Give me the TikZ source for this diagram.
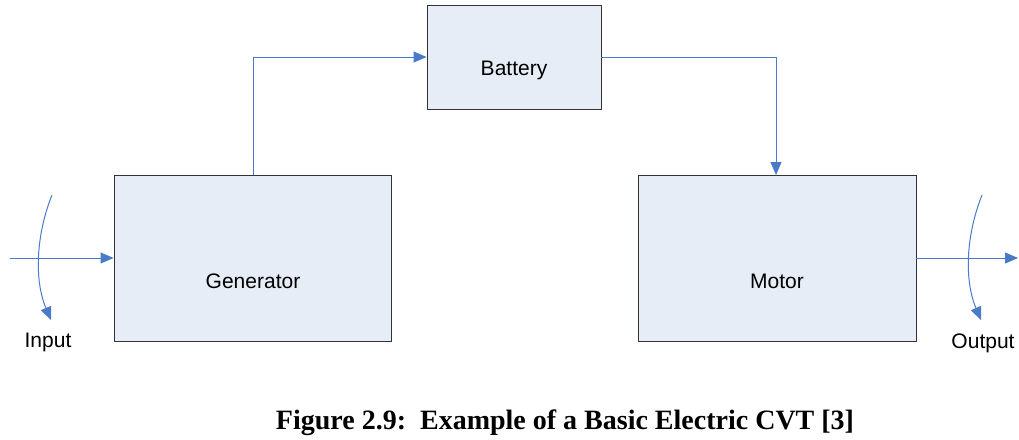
\documentclass[tikz,border=0pt]{standalone}
\usepackage{fontspec}
\setmainfont{Liberation Serif}
\setsansfont{Liberation Sans}
\usetikzlibrary{arrows.meta}
\definecolor{boxfill}{HTML}{E7EDF7}
\definecolor{flowblue}{HTML}{4A7BC8}
\begin{document}
\begin{tikzpicture}[
    x=1pt, y=-1pt,
    block/.style={draw=black!80, fill=boxfill, line width=0.9pt, inner sep=0pt},
    flow/.style={draw=flowblue, line width=1pt, -{Triangle[length=13pt,width=11pt]}},
    lbl/.style={font=\sffamily\fontsize{21}{23}\selectfont}
]
    \useasboundingbox (0,0) rectangle (1019,439);

    % --- BLOCKS ---
    \node[block, minimum width=174pt, minimum height=104pt] (battery) at (514,57) {};
    \node[block, minimum width=277pt, minimum height=166pt] (gen) at (252.5,258) {};
    \node[block, minimum width=278pt, minimum height=166pt] (motor) at (777,258) {};

    % Block labels
    \node[lbl] (batterytxt) at (514,70) {Battery};
    \node[lbl] (gentxt) at (253,281) {Generator};
    \node[lbl] (motortxt) at (777,281) {Motor};

    % --- POWER FLOW ---
    \coordinate (genTop) at (253,175);
    \coordinate (motTop) at (776,175);
    \draw[flow] (genTop) |- (battery.west);
    \draw[flow] (battery.east) -| (motTop);

    % Input shaft
    \coordinate (inStart) at (10,258);
    \draw[flow] (inStart) -- (gen.west);

    % Output shaft
    \coordinate (outEnd) at (1018,258);
    \draw[flow] (motor.east) -- (outEnd);

    % --- ROTATION ARROWS ---
    \coordinate (inA) at (52,195);
    \coordinate (inB) at (51,320);
    \draw[flow] (inA) .. controls (36,235) and (34,280) .. (inB);
    \coordinate (outA) at (982,195);
    \coordinate (outB) at (981,320);
    \draw[flow] (outA) .. controls (966,235) and (964,280) .. (outB);

    % Shaft labels
    \node[lbl, anchor=north] (intxt) at (48,330) {Input};
    \node[lbl, anchor=north] (outtxt) at (983,330) {Output};

    % --- CAPTION ---
    \node[font=\bfseries\fontsize{28}{32}\selectfont] (caption) at (565,423)
        {Figure 2.9:\ \ Example of a Basic Electric CVT [3]};

\end{tikzpicture}
\end{document}
